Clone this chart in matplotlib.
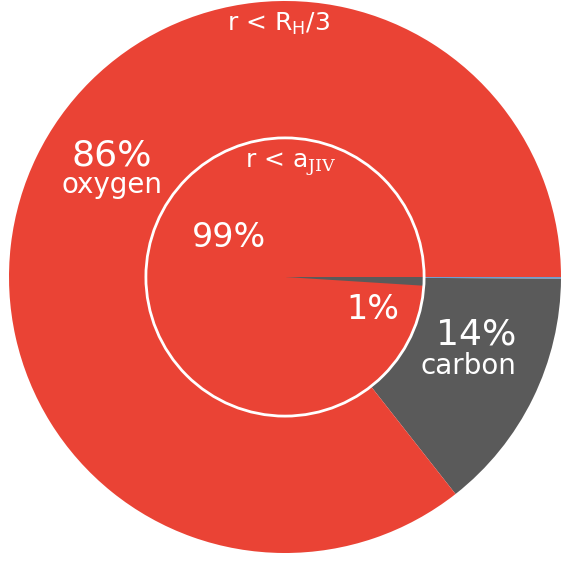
import numpy as np
import matplotlib
matplotlib.use("Agg")
import matplotlib.pyplot as plt

# outer ring: r < R_H/3
outer_labels = ["other", "carbon", "oxygen"]
outer_values = [0.1, 14.3, 85.6]
outer_text   = ["", "14%", "86%"]

# inner disc: r < a_JIV
inner_labels = ["carbon", "oxygen"]
inner_values = [1.0, 99.0]
inner_text   = ["1%", "99%"]

red  = "#EA4335"
gray = "#5A5A5A"
blue = "#6E9FD3"
outer_colors = [blue, gray, red]
inner_colors = [gray, red]

plt.rcParams["mathtext.fontset"] = "custom"
plt.rcParams["mathtext.rm"] = "DejaVu Serif"
plt.rcParams["mathtext.sf"] = "DejaVu Sans"

fig = plt.figure(figsize=(5.66, 5.66), dpi=100)
ax = fig.add_axes([0, 0, 1, 1])

R  = 1.0
r_in = 0.504

ax.pie(outer_values, colors=outer_colors, radius=R, startangle=0,
       counterclock=False, center=(0, 0), wedgeprops=dict(linewidth=0))
ax.pie(inner_values, colors=inner_colors, radius=r_in, startangle=0,
       counterclock=False, center=(0, 0), wedgeprops=dict(linewidth=0))
circ = plt.Circle((0, 0), r_in, fill=False, edgecolor="white", linewidth=2)
ax.add_patch(circ)

ax.set_xlim(-285 / 276, 281 / 276)
ax.set_ylim(-289 / 276, 277 / 276)
ax.set_aspect("equal")
ax.axis("off")

# labels
ax.text(-0.627, 0.442, outer_text[2], color="white", fontsize=26, ha="center", va="center")
ax.text(-0.627, 0.333, outer_labels[2], color="white", fontsize=20, ha="center", va="center")
ax.text(0.692, -0.207, outer_text[1], color="white", fontsize=26, ha="center", va="center")
ax.text(0.663, -0.322, outer_labels[1], color="white", fontsize=20, ha="center", va="center")
ax.text(-0.203, 0.142, inner_text[1], color="white", fontsize=24, ha="center", va="center")
ax.text(0.319, -0.116, inner_text[0], color="white", fontsize=24, ha="center", va="center")

ax.text(-0.022, 0.891, r"r < R$_\mathsf{H}$/3", color="white", fontsize=18,
        ha="center", va="baseline")
ax.text(0.022, 0.395, r"r < a$_\mathrm{JIV}$", color="white", fontsize=18,
        ha="center", va="baseline")

fig.savefig("out.png", dpi=100, facecolor="white")
